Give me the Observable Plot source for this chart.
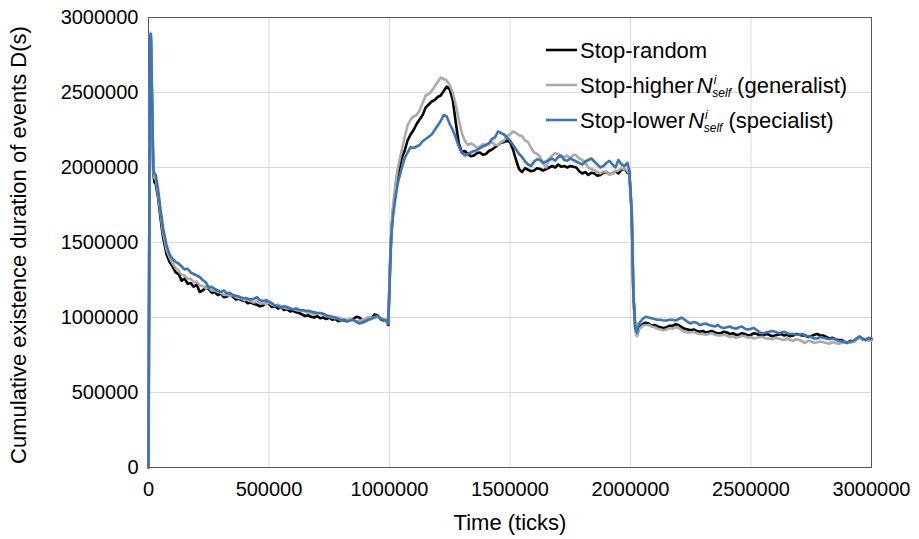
<!DOCTYPE html>
<html>
<head>
<meta charset="utf-8">
<script src="https://cdn.jsdelivr.net/npm/d3@7"></script>
<script src="https://cdn.jsdelivr.net/npm/@observablehq/plot@0.6"></script>
<style>
  html, body { margin: 0; padding: 0; background: #fff; }
  #chart { width: 919px; height: 539px; }
</style>
</head>
<body>
<div id="chart"></div>
<script>
// Time, in thousands of ticks
const timesK = [
  0, 6, 10, 15, 20, 25, 30, 40, 50, 60, 75, 87.5,
  100, 112.5, 125, 137.5, 150, 162.5, 175, 187.5,
  200, 212.5, 225, 237.5, 250, 262.5, 275, 287.5,
  300, 312.5, 325, 337.5, 350, 362.5, 375, 387.5,
  400, 412.5, 425, 437.5, 450, 462.5, 475, 487.5,
  500, 512.5, 525, 537.5, 550, 562.5, 575, 587.5,
  600, 612.5, 625, 637.5, 650, 662.5, 675, 687.5,
  700, 712.5, 725, 737.5, 750, 762.5, 775, 787.5,
  800, 812.5, 825, 837.5, 850, 862.5, 875, 887.5,
  900, 912.5, 925, 937.5, 950, 962.5, 975, 987.5,
  995,
  1003, 1008, 1015, 1025, 1035,
  1050, 1062.5, 1075, 1087.5, 1100, 1112.5, 1125, 1137.5,
  1150, 1162.5, 1175, 1187.5, 1200, 1212.5, 1225, 1237.5,
  1250, 1262.5, 1275, 1287.5, 1300, 1312.5, 1325, 1337.5,
  1350, 1362.5, 1375, 1387.5, 1400, 1412.5, 1425, 1437.5,
  1450, 1462.5, 1475, 1487.5, 1500, 1512.5, 1525, 1537.5,
  1550, 1562.5, 1575, 1587.5, 1600, 1612.5, 1625, 1637.5,
  1650, 1662.5, 1675, 1687.5, 1700, 1712.5, 1725, 1737.5,
  1750, 1762.5, 1775, 1787.5, 1800, 1812.5, 1825, 1837.5,
  1850, 1862.5, 1875, 1887.5, 1900, 1912.5, 1925, 1937.5,
  1950, 1962.5, 1975, 1987.5,
  1995,
  2005, 2012, 2020, 2027, 2035,
  2050, 2062.5, 2075, 2087.5, 2100, 2112.5, 2125, 2137.5,
  2150, 2162.5, 2175, 2187.5, 2200, 2212.5, 2225, 2237.5,
  2250, 2262.5, 2275, 2287.5, 2300, 2312.5, 2325, 2337.5,
  2350, 2362.5, 2375, 2387.5, 2400, 2412.5, 2425, 2437.5,
  2450, 2462.5, 2475, 2487.5, 2500, 2512.5, 2525, 2537.5,
  2550, 2562.5, 2575, 2587.5, 2600, 2612.5, 2625, 2637.5,
  2650, 2662.5, 2675, 2687.5, 2700, 2712.5, 2725, 2737.5,
  2750, 2762.5, 2775, 2787.5, 2800, 2812.5, 2825, 2837.5,
  2850, 2862.5, 2875, 2887.5, 2900, 2912.5, 2925, 2937.5,
  2950, 2962.5, 2975, 2987.5, 3000
];

// Cumulative existence duration D(s), in thousands
const stopRandom = [
  0, 2880, 2860, 2400, 1960, 1900, 1890, 1800, 1660, 1540, 1420, 1370,
  1340, 1300, 1290, 1245, 1260, 1225, 1230, 1205,
  1220, 1170, 1180, 1200, 1190, 1165, 1170, 1150,
  1160, 1135, 1140, 1150, 1140, 1120, 1125, 1115,
  1110, 1095, 1100, 1090, 1085, 1075, 1080, 1095,
  1090, 1070, 1075, 1060, 1070, 1050, 1055, 1040,
  1045, 1035, 1030, 1020, 1010, 1015, 1005, 1000,
  1010, 995, 1000, 990, 1000, 985, 990, 975,
  985, 980, 975, 985, 990, 1005, 1000, 980,
  985, 1000, 995, 1020, 1015, 990, 980, 975,
  950,
  1380, 1580, 1720, 1850, 1950,
  2060, 2110, 2180, 2220, 2250, 2290, 2320, 2350,
  2400, 2420, 2440, 2450, 2470, 2480, 2510, 2540,
  2520, 2450, 2300, 2160, 2100, 2110, 2090, 2075,
  2080, 2095, 2100, 2085, 2090, 2110, 2120, 2135,
  2150, 2165, 2170, 2180, 2170, 2120, 2050, 1990,
  1970, 1995, 1985, 1975, 1980, 1995, 1990, 1980,
  1990, 2000, 2010, 2000, 2020, 2005, 2010, 2000,
  2010, 2005, 2000, 1975, 1960, 1970, 1950, 1965,
  1960, 1945, 1950, 1965, 1970, 1955, 1960, 1975,
  1960, 1985, 1990, 1965,
  1970,
  1700, 1150, 920, 880, 930,
  955, 965, 960, 945, 950, 940, 935, 930,
  935, 945, 945, 955, 950, 935, 925, 920,
  915, 920, 910, 905, 910, 900, 905, 910,
  900, 895, 895, 905, 900, 890, 895, 885,
  885, 895, 890, 880, 885, 895, 890, 880,
  880, 890, 885, 875, 880, 885, 890, 880,
  885, 875, 880, 890, 885, 880, 880, 870,
  875, 885, 890, 880, 880, 870, 860, 865,
  855, 850, 850, 840, 830, 845, 840, 855,
  870, 855, 850, 860, 855
];

const stopHigher = [
  0, 2900, 2870, 2420, 1970, 1930, 1920, 1820, 1690, 1570, 1450, 1400,
  1360, 1330, 1310, 1285, 1280, 1255, 1260, 1235,
  1240, 1215, 1210, 1195, 1200, 1180, 1180, 1170,
  1165, 1150, 1150, 1145, 1150, 1135, 1130, 1125,
  1115, 1120, 1110, 1100, 1110, 1095, 1095, 1090,
  1100, 1085, 1080, 1085, 1075, 1065, 1060, 1060,
  1055, 1050, 1045, 1045, 1040, 1030, 1030, 1020,
  1025, 1030, 1020, 1010, 1005, 1000, 995, 1000,
  990, 985, 985, 990, 980, 975, 975, 985,
  990, 1000, 1000, 995, 1005, 995, 990, 970,
  960,
  1400, 1600, 1750, 1900, 2000,
  2110, 2200, 2280, 2320, 2340, 2350, 2380, 2430,
  2480, 2490, 2510, 2540, 2570, 2600, 2590, 2580,
  2550, 2500, 2420, 2320, 2230, 2180, 2150, 2160,
  2150, 2130, 2140, 2155, 2150, 2160, 2170, 2150,
  2150, 2170, 2180, 2210, 2220, 2240, 2230, 2215,
  2210, 2180, 2170, 2130, 2100, 2090, 2070, 2030,
  2000, 2060, 2080, 2095, 2090, 2070, 2070, 2080,
  2060, 2085, 2080, 2060, 2050, 2030, 2000, 1990,
  1980, 1970, 1960, 1975, 1970, 1955, 1960, 1975,
  1980, 1995, 1990, 1975,
  1960,
  1700, 1150, 910, 875, 920,
  945, 950, 950, 940, 935, 925, 920, 915,
  920, 930, 925, 935, 930, 915, 905, 900,
  900, 905, 895, 890, 890, 885, 890, 895,
  885, 880, 880, 885, 880, 870, 875, 865,
  870, 878, 875, 865, 870, 860, 865, 870,
  870, 860, 860, 855, 865, 860, 855, 850,
  860, 850, 845, 855, 850, 840, 830, 845,
  840, 830, 835, 840, 835, 830, 825, 835,
  830, 825, 830, 840, 835, 830, 840, 855,
  865, 855, 850, 845, 845
];

const stopLower = [
  0, 2880, 2890, 2450, 1980, 1960, 1950, 1850, 1720, 1600, 1480, 1420,
  1390, 1370, 1360, 1340, 1320, 1325, 1300, 1290,
  1280, 1270, 1250, 1235, 1200, 1205, 1190, 1180,
  1170, 1180, 1160, 1165, 1150, 1145, 1140, 1130,
  1130, 1125, 1120, 1125, 1135, 1115, 1110, 1115,
  1105, 1095, 1080, 1075, 1065, 1075, 1070, 1060,
  1055, 1060, 1050, 1050, 1045, 1045, 1040, 1035,
  1030, 1030, 1025, 1015, 1010, 1005, 1000, 990,
  980, 985, 975, 980, 985, 970, 960, 965,
  975, 985, 990, 1005, 1010, 995, 980, 985,
  960,
  1350, 1550, 1680, 1800, 1900,
  1990, 2060, 2100, 2135, 2130, 2140, 2150, 2175,
  2190, 2205, 2220, 2250, 2280, 2310, 2350, 2340,
  2290, 2250, 2200, 2140, 2100, 2080, 2090, 2100,
  2110, 2115, 2130, 2140, 2150, 2160, 2190, 2200,
  2240, 2230, 2220, 2200, 2180, 2150, 2120, 2090,
  2070, 2040, 2020, 2010, 2040, 2055, 2050, 2030,
  2040, 2050, 2060, 2045, 2070, 2080, 2050, 2045,
  2060, 2050, 2040, 2030, 2020, 2040, 2050, 2060,
  2040, 2020, 2000, 2010, 2030, 2045, 2020, 2000,
  2050, 2020, 2010, 2030,
  1980,
  1700, 1150, 930, 900, 960,
  990, 1005, 1000, 995, 990, 985, 985, 980,
  980, 985, 985, 980, 990, 1000, 985, 970,
  960, 970, 965, 950, 955, 960, 950, 945,
  940, 950, 935, 930, 935, 940, 930, 925,
  935, 940, 925, 920, 925, 930, 915, 900,
  895, 900, 905, 910, 905, 895, 900, 905,
  895, 890, 890, 885, 885, 890, 880, 875,
  870, 860, 860, 870, 865, 860, 855, 860,
  855, 845, 840, 835, 835, 840, 845, 860,
  875, 860, 850, 865, 860
];

const seriesNames = ["Stop-random", "Stop-higher", "Stop-lower"];
const seriesColors = ["#000000", "#ababab", "#3a74b9"];
const xTicks = [0, 500000, 1000000, 1500000, 2000000, 2500000, 3000000];
const yTicks = [0, 500000, 1000000, 1500000, 2000000, 2500000, 3000000];

const seriesValues = [stopRandom, stopHigher, stopLower];
const data = [];
seriesValues.forEach((vals, si) => {
  vals.forEach((v, i) => data.push({series: seriesNames[si], t: timesK[i] * 1000, v: v * 1000}));
});

const FONT = "'Liberation Sans', Arial, sans-serif";

const chart = Plot.plot({
  width: 919,
  height: 539,
  marginLeft: 148,
  marginRight: 48,
  marginTop: 17,
  marginBottom: 72,
  style: {fontFamily: FONT, fontSize: "20px", color: "#000", background: "#fff", overflow: "visible"},
  x: {domain: [0, 3000000]},
  y: {domain: [0, 3000000]},
  color: {domain: seriesNames, range: seriesColors},
  marks: [
    Plot.gridX(xTicks, {stroke: "#d9d9d9", strokeOpacity: 1, strokeWidth: 1}),
    Plot.gridY(yTicks, {stroke: "#d9d9d9", strokeOpacity: 1, strokeWidth: 1}),
    Plot.axisX(xTicks, {tickSize: 0, tickPadding: 14, tickFormat: d => String(d), label: null, fill: "#000"}),
    Plot.axisY(yTicks, {tickSize: 0, tickPadding: 10, tickFormat: d => String(d), label: null, fill: "#000"}),
    Plot.frame({stroke: "#595959", strokeWidth: 1}),
    Plot.line(data, {x: "t", y: "v", z: "series", stroke: "series", strokeWidth: 2.6, strokeLinejoin: "round"})
  ]
});

document.getElementById("chart").appendChild(chart);

const svg = d3.select(chart);
// axis titles
svg.append("text")
  .attr("x", 510).attr("y", 530)
  .attr("text-anchor", "middle")
  .attr("font-family", FONT).attr("font-size", 22).attr("fill", "#000")
  .text("Time (ticks)");
svg.append("text")
  .attr("transform", "translate(26,245) rotate(-90)")
  .attr("text-anchor", "middle")
  .attr("font-family", FONT).attr("font-size", 22).attr("fill", "#000")
  .text("Cumulative existence duration of events D(s)");

// legend
const leg = svg.append("g").attr("font-family", FONT).attr("font-size", 22)
  .attr("fill", "#000").attr("text-anchor", "start");
const rows = [50, 85, 120];
const labels = [
  [{t: "Stop-random"}],
  [{t: "Stop-higher"}, {t: "N", it: true, gap: true}, {t: "i", it: true, sup: true}, {t: "self", it: true, sub: true}, {t: " (generalist)", back: true}],
  [{t: "Stop-lower"}, {t: "N", it: true, gap: true}, {t: "i", it: true, sup: true}, {t: "self", it: true, sub: true}, {t: " (specialist)", back: true}]
];
rows.forEach((y, i) => {
  leg.append("line").attr("x1", 546).attr("x2", 577).attr("y1", y).attr("y2", y)
    .attr("stroke", seriesColors[i]).attr("stroke-width", 2.6);
  const txt = leg.append("text").attr("x", 580).attr("y", y + 8);
  labels[i].forEach(p => {
    const ts = txt.append("tspan").text(p.t);
    if (p.it) ts.attr("font-style", "italic");
    if (p.gap) ts.attr("dx", 3);
    if (p.sup) ts.attr("font-size", 12).attr("dy", -9).attr("dx", 1);
    else if (p.sub) ts.attr("font-size", 12).attr("dx", -4).attr("dy", 13);
    else if (p.back) ts.attr("dy", -4);
  });
});
</script>
</body>
</html>
